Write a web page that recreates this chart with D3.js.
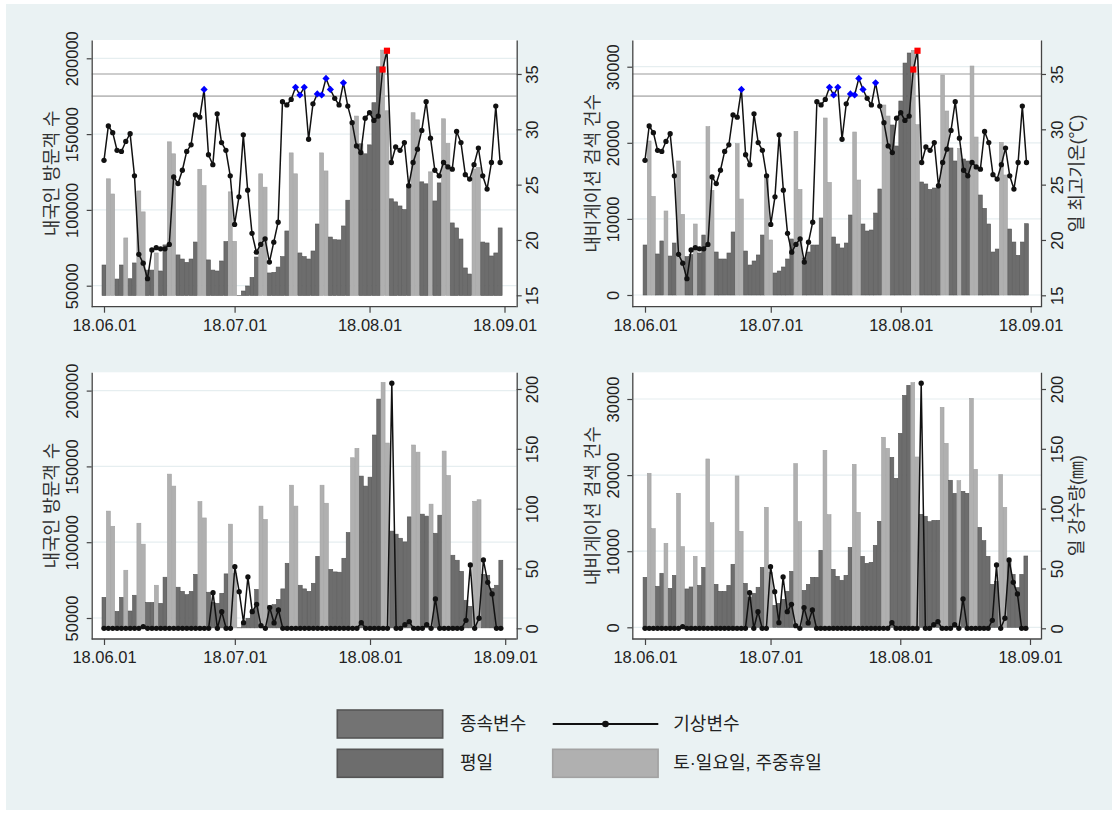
<!DOCTYPE html>
<html>
<head>
<meta charset="utf-8">
<script src="https://cdn.jsdelivr.net/npm/d3@7"></script>
<style>
  body { margin: 0; background: #fff; }
  text { font-family: "Liberation Sans", "Noto Sans CJK KR", sans-serif; }
</style>
</head>
<body>
<div id="chart"></div>
<script>
/////////////////////////////////////////////////////
///////////////////// Data //////////////////////////
/////////////////////////////////////////////////////

// Daily series from 2018-06-01 to 2018-08-31
const startDate = new Date(2018, 5, 1);
const endDate   = new Date(2018, 8, 1);
const days      = d3.timeDay.range(startDate, endDate);
const xTickDates = [new Date(2018, 5, 1), new Date(2018, 6, 1), new Date(2018, 7, 1), new Date(2018, 8, 1)];

// weekday holidays (drawn like weekends)
const holidays = ["2018-06-06", "2018-06-13", "2018-08-15"];

// 내국인 방문객 수
const visitors = [
  63650, 120500, 110500, 54400, 63650, 81500, 54600, 65000, 112500, 98700,
  60300, 60300, 71600, 59700, 76900, 144900, 137000, 70300, 67600, 65400,
  67600, 78800, 126800, 116000, 67000, 60300, 59700, 66300, 79100, 111900,
  79300, 43600, 46500, 49800, 55500, 68900, 123800, 115000, 58400, 58800,
  62300, 69200, 86100, 137600, 123800, 71600, 69200, 67600, 72900, 90700,
  137600, 125700, 82100, 80400, 80200, 89400, 106400, 155700, 161900, 143600,
  137000, 142900, 170700, 194400, 205400, 165400, 107300, 105300, 102600, 100200,
  116700, 164100, 159400, 118500, 117200, 125100, 105900, 117800, 160100, 144000,
  91400, 88100, 80800, 61700, 57700, 127000, 128000, 78800, 78200, 69600,
  71600, 88100
];

// 내비게이션 검색 건수
const searches = [
  6570, 20240, 12960, 5390, 7100, 11040, 5120, 6830, 17610, 10600,
  5040, 5300, 9330, 5520, 7880, 22120, 13750, 5650, 4730, 4730,
  5520, 8280, 19890, 12610, 5780, 3940, 4470, 5260, 7880, 15770,
  7230, 2890, 3150, 3680, 4730, 7360, 21510, 13880, 4860, 5650,
  6570, 6570, 10120, 23260, 14800, 7620, 6700, 6180, 6830, 10510,
  21420, 15110, 9330, 8410, 8540, 10770, 13930, 24970, 23520, 22340,
  19580, 25490, 30480, 31800, 32150, 22380, 14850, 14590, 13880, 14060,
  14060, 28910, 24180, 19320, 17610, 19270, 17870, 17610, 30090, 20760,
  13140, 11390, 9330, 5650, 6040, 20060, 15770, 8670, 6960, 5210,
  6960, 9370
];

// 일 최고기온(℃)
const maxTemp = [
  27.2, 30.3, 29.7, 28.1, 28.0, 28.9, 29.6, 25.8, 18.7, 17.9,
  16.5, 19.1, 19.3, 19.2, 19.2, 19.6, 25.7, 25.1, 26.3, 28.0,
  28.6, 31.3, 31.1, 33.6, 27.7, 26.8, 31.4, 28.8, 28.1, 25.8,
  21.4, 23.9, 29.5, 24.5, 20.6, 18.9, 19.6, 20.1, 18.0, 19.8,
  21.6, 32.5, 32.2, 32.7, 33.8, 33.1, 33.8, 29.1, 32.3, 33.2,
  33.1, 34.6, 33.6, 32.8, 32.2, 34.2, 32.1, 30.6, 28.5, 27.9,
  31.0, 31.5, 30.8, 31.2, 35.4, 37.1, 27.0, 28.4, 28.1, 28.8,
  24.9, 27.0, 28.2, 29.9, 32.5, 29.2, 26.3, 25.8, 27.0, 26.6,
  26.4, 29.8, 28.8, 25.9, 25.5, 26.8, 28.3, 25.8, 24.6, 27.0,
  32.1, 27.0
];

// 일 강수량(㎜)
const rainfall = [
  0, 0, 0, 0, 0, 0, 0, 0, 0, 1.4,
  0, 0, 0, 0, 0, 0, 0, 0, 0, 0,
  0, 0, 0, 0, 0, 29.8, 0, 13.9, 0, 0,
  51.5, 30.6, 4.7, 42.9, 13.9, 20.0, 2.2, 0, 17.3, 4.5,
  15.3, 0, 0, 0, 0, 0, 0, 0, 0, 0,
  0, 0, 0, 0, 0, 0, 0, 0, 0, 4.7,
  0, 0, 0, 0, 0, 0, 204.8, 0, 0, 3.0,
  5.5, 0, 0, 0, 3.0, 0, 24.5, 0, 0, 0,
  0, 0, 0, 6.7, 52.9, 0, 8.4, 57.1, 38.4, 28.7,
  0, 0
];

// Heat advisory / warning reference lines (℃)
const heatLines = [33, 35];

/////////////////////////////////////////////////////
///////////////////// Constants /////////////////////
/////////////////////////////////////////////////////

const bg_color       = '#eaf2f3';
const weekday_color  = '#6d6d6d';
const weekday_edge   = '#555555';
const weekend_color  = '#b0b0b0';
const weekend_edge   = '#a2a2a2';
const grid_color     = '#e6eef0';
const ref_color      = '#bdbdbd';
const axis_color     = '#444444';
const line_color     = '#111111';
const text_color     = '#222222';

const fmtDay = d3.timeFormat("%Y-%m-%d");
const isOff  = d => d.getDay() === 0 || d.getDay() === 6 || holidays.includes(fmtDay(d));

// Panel layouts (plot region position / size, and where the dates fall)
const panels = [
  { x0: 91.7,  y0: 40,    w: 425,   h: 266.7, xr: [12.3, 412.8],
    bars: visitors, barDomain: [36150, 212070], barBase: 43500, leftTicks: [50000, 100000, 150000, 200000],
    leftTitle: "내국인 방문객 수",
    line: maxTemp, lineDomain: [13.97, 38.07], rightTicks: [15, 20, 25, 30, 35], rightTitle: null, heat: true },
  { x0: 632.3, y0: 40,    w: 408.7, h: 266.7, xr: [12.7, 398.4],
    bars: searches, barDomain: [-1537, 33510], barBase: 0, leftTicks: [0, 10000, 20000, 30000],
    leftTitle: "내비게이션 검색 건수",
    line: maxTemp, lineDomain: [13.97, 38.07], rightTicks: [15, 20, 25, 30, 35], rightTitle: "일 최고기온(℃)", heat: true },
  { x0: 91.7,  y0: 372.3, w: 425,   h: 266.7, xr: [12.3, 413.5],
    bars: visitors, barDomain: [36150, 212070], barBase: 43500, leftTicks: [50000, 100000, 150000, 200000],
    leftTitle: "내국인 방문객 수",
    line: rainfall, lineDomain: [-8.94, 213.96], rightTicks: [0, 50, 100, 150, 200], rightTitle: null, heat: false },
  { x0: 632.3, y0: 372.3, w: 408.7, h: 266.7, xr: [12.7, 397.7],
    bars: searches, barDomain: [-1537, 33510], barBase: 0, leftTicks: [0, 10000, 20000, 30000],
    leftTitle: "내비게이션 검색 건수",
    line: rainfall, lineDomain: [-8.94, 213.96], rightTicks: [0, 50, 100, 150, 200], rightTitle: "일 강수량(㎜)", heat: false }
];

const svg = d3.select("#chart")
  .append("svg")
  .attr("width", 1117)
  .attr("height", 813);

svg.append("rect")
  .attr("x", 6).attr("y", 4)
  .attr("width", 1106).attr("height", 806)
  .attr("fill", bg_color);

/////////////////////////////////////////////////////
///////////////////// Panels ////////////////////////
/////////////////////////////////////////////////////

function styleAxis(a) {
  a.attr("font-size", 16.5).attr("font-family", null).style("color", axis_color);
  a.selectAll("line").attr("stroke-width", 1.2);
  a.selectAll("path.domain").attr("stroke-width", 1.3);
  a.selectAll("text").style("fill", text_color);
}

panels.forEach(p => {
  const g = svg.append("g").attr("transform", `translate(${p.x0},${p.y0})`);

  const x  = d3.scaleTime().domain([startDate, endDate]).range(p.xr);
  const yL = d3.scaleLinear().domain(p.barDomain).range([p.h, 0]);
  const yR = d3.scaleLinear().domain(p.lineDomain).range([p.h, 0]);
  const step = x(days[1]) - x(days[0]);

  // plot region
  g.append("rect").attr("width", p.w).attr("height", p.h).attr("fill", "#fff");

  // grid lines on the left axis ticks
  g.append("g").selectAll("line")
    .data(p.leftTicks)
    .join("line")
    .attr("x1", 0).attr("x2", p.w)
    .attr("y1", d => yL(d)).attr("y2", d => yL(d))
    .attr("stroke", grid_color).attr("stroke-width", 1.2);

  // heat reference lines
  if (p.heat) {
    g.append("g").selectAll("line")
      .data(heatLines)
      .join("line")
      .attr("x1", 0).attr("x2", p.w)
      .attr("y1", d => yR(d)).attr("y2", d => yR(d))
      .attr("stroke", ref_color).attr("stroke-width", 1.6);
  }

  // bars
  g.append("g").selectAll("rect")
    .data(days)
    .join("rect")
    .attr("x", d => x(d) - step / 2 + 0.2)
    .attr("width", step - 0.4)
    .attr("y", (d, i) => yL(Math.max(p.bars[i], p.barBase)))
    .attr("height", (d, i) => yL(p.barBase) - yL(Math.max(p.bars[i], p.barBase)))
    .attr("fill", d => isOff(d) ? weekend_color : weekday_color)
    .attr("stroke", d => isOff(d) ? weekend_edge : weekday_edge)
    .attr("stroke-width", 0.6);

  // weather line
  g.append("path")
    .datum(days)
    .attr("fill", "none")
    .attr("stroke", line_color)
    .attr("stroke-width", 1.5)
    .attr("d", d3.line().x(d => x(d)).y((d, i) => yR(p.line[i])));

  // markers (blue >= 33℃, red >= 35℃ for temperature)
  const markerKind = v => !p.heat ? "dot" : v >= 35 ? "hot" : v >= 33 ? "warm" : "dot";
  g.append("g").selectAll("path")
    .data(days)
    .join("path")
    .attr("transform", (d, i) => {
      const t = `translate(${x(d)},${yR(p.line[i])})`;
      return markerKind(p.line[i]) === "warm" ? t + " rotate(45)" : t;
    })
    .attr("d", (d, i) => {
      const k = markerKind(p.line[i]);
      if (k === "hot")  return d3.symbol(d3.symbolSquare, 38)();
      if (k === "warm") return d3.symbol(d3.symbolSquare, 26)();
      return d3.symbol(d3.symbolCircle, 22)();
    })
    .attr("fill", (d, i) => {
      const k = markerKind(p.line[i]);
      return k === "hot" ? "#ff0000" : k === "warm" ? "#0000ff" : line_color;
    });

  // left axis
  const left = g.append("g")
    .call(d3.axisLeft(yL).tickValues(p.leftTicks).tickSize(5).tickSizeOuter(0).tickFormat(d3.format("d")));
  styleAxis(left);
  left.selectAll("text")
    .attr("x", 0).attr("y", 0).attr("dy", "0.35em")
    .attr("text-anchor", "middle")
    .attr("transform", "translate(-19.5,0) rotate(-90)");

  // right axis
  const right = g.append("g")
    .attr("transform", `translate(${p.w},0)`)
    .call(d3.axisRight(yR).tickValues(p.rightTicks).tickSize(5).tickSizeOuter(0).tickFormat(d3.format("d")));
  styleAxis(right);
  right.selectAll("text")
    .attr("x", 0).attr("y", 0).attr("dy", "0.35em")
    .attr("text-anchor", "middle")
    .attr("transform", "translate(16,0) rotate(-90)");

  // bottom axis
  const bottom = g.append("g")
    .attr("transform", `translate(0,${p.h})`)
    .call(d3.axisBottom(x).tickValues(xTickDates).tickSize(6).tickFormat(d3.timeFormat("%y.%m.%d")));
  styleAxis(bottom);
  bottom.select("path.domain").remove();
  bottom.selectAll("text").attr("y", 9).attr("dy", "0.9em");
  bottom.append("line")
    .attr("x1", 0).attr("x2", p.w)
    .attr("stroke", axis_color).attr("stroke-width", 1.3);

  // axis titles
  g.append("text")
    .attr("transform", `translate(-40,${p.h / 2}) rotate(-90)`)
    .attr("text-anchor", "middle")
    .attr("dy", "0.35em")
    .attr("font-size", 18)
    .style("fill", "#333")
    .text(p.leftTitle);

  if (p.rightTitle) {
    g.append("text")
      .attr("transform", `translate(${p.w + 36},${p.h / 2}) rotate(-90)`)
      .attr("text-anchor", "middle")
      .attr("dy", "0.35em")
      .attr("font-size", 18)
      .style("fill", "#333")
      .text(p.rightTitle);
  }
});

/////////////////////////////////////////////////////
///////////////////// Legend ////////////////////////
/////////////////////////////////////////////////////

const legend = svg.append("g");
const boxW = 105.4, boxH = 28;

const legendBoxes = [
  { x: 337.3, y: 710,   fill: '#737373', stroke: '#555555' },
  { x: 337.3, y: 749.3, fill: weekday_color, stroke: '#555555' },
  { x: 552.7, y: 749.3, fill: weekend_color, stroke: weekend_edge }
];
legend.selectAll("rect")
  .data(legendBoxes)
  .join("rect")
  .attr("x", d => d.x).attr("y", d => d.y)
  .attr("width", boxW).attr("height", boxH)
  .attr("fill", d => d.fill)
  .attr("stroke", d => d.stroke)
  .attr("stroke-width", 1.6);

legend.append("line")
  .attr("x1", 552.7).attr("x2", 658.3)
  .attr("y1", 724).attr("y2", 724)
  .attr("stroke", line_color).attr("stroke-width", 2);
legend.append("circle")
  .attr("cx", 605.5).attr("cy", 724).attr("r", 3.3)
  .attr("fill", line_color);

const legendTexts = [
  { x: 460,   y: 724, t: "종속변수" },
  { x: 673.3, y: 724, t: "기상변수" },
  { x: 460,   y: 763, t: "평일" },
  { x: 673.3, y: 763, t: "토·일요일, 주중휴일" }
];
legend.selectAll("text")
  .data(legendTexts)
  .join("text")
  .attr("x", d => d.x).attr("y", d => d.y)
  .attr("dy", "0.35em")
  .attr("font-size", 18)
  .style("fill", text_color)
  .text(d => d.t);
</script>
</body>
</html>
